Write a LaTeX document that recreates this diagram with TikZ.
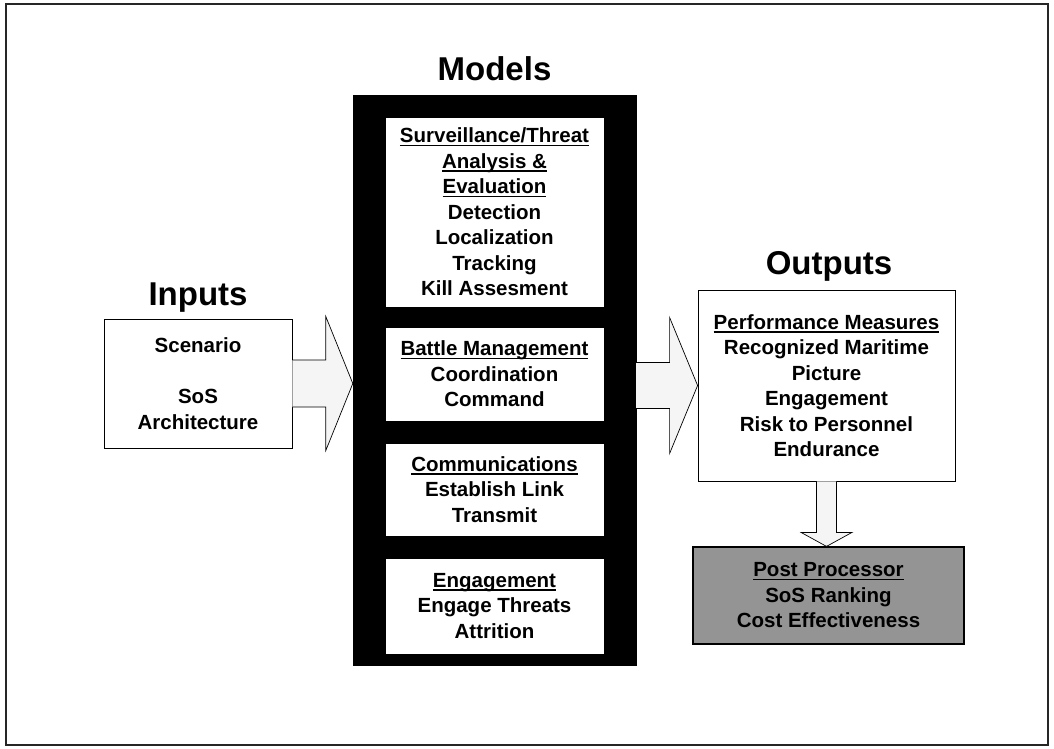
\documentclass[tikz,border=0pt]{standalone}
\usepackage{fontspec}
\setmainfont{Liberation Sans}
\usetikzlibrary{calc}
\newcommand\ulx[1]{\setbox0\hbox{#1}\rlap{\rule[-3.5pt]{\wd0}{1.6pt}}\box0}
\begin{document}
\begin{tikzpicture}[x=1pt,y=-1pt,
  box/.style={draw=black, line width=0.8pt, fill=white, inner sep=0pt, align=center,
    font=\bfseries\fontsize{20.5}{25.5}\selectfont},
  title/.style={anchor=base, inner sep=0pt, font=\bfseries\fontsize{33}{36}\selectfont},
  bigarrow/.style={draw=black, line width=0.7pt, fill=black!4, line join=miter}]
\useasboundingbox (0,0) rectangle (1054,749);
\draw[line width=1.4pt, draw=black!85] (6,4) rectangle (1048,745);

% titles
\node[title] (tinputs) at (198,305) {Inputs};
\node[title] (tmodels) at (494.5,81) {Models};
\node[title] (toutputs) at (829,274) {Outputs};

% inputs
\node[box, minimum width=188pt, minimum height=129pt] (inputs) at (198,383.5)
  {Scenario\\[26pt]SoS\\Architecture};

% models container
\node[draw=black, fill=black, minimum width=283pt, minimum height=570pt, inner sep=0pt] (models) at (494.5,380) {};
\node[box, minimum width=219pt, minimum height=190pt] (b1) at (494.5,212)
  {\ulx{Surveillance/Threat}\\\ulx{Analysis \&}\\\ulx{Evaluation}\\Detection\\Localization\\Tracking\\Kill Assesment};
\node[box, minimum width=219pt, minimum height=94pt] (b2) at (494.5,374)
  {\ulx{Battle Management}\\Coordination\\Command};
\node[box, minimum width=219pt, minimum height=93pt] (b3) at (494.5,489.5)
  {\ulx{Communications}\\Establish Link\\Transmit};
\node[box, minimum width=219pt, minimum height=96pt] (b4) at (494.5,606)
  {\ulx{Engagement}\\Engage Threats\\Attrition};

% outputs
\node[box, minimum width=257pt, minimum height=191pt] (outputs) at (826.5,385.5)
  {\ulx{Performance Measures}\\Recognized Maritime\\Picture\\Engagement\\Risk to Personnel\\Endurance};

% post processor
\node[box, fill=black!42, line width=1.2pt, minimum width=271pt, minimum height=97pt] (post) at (828.5,595.5)
  {\ulx{Post Processor}\\SoS Ranking\\Cost Effectiveness};

% input arrow
\coordinate (ia) at (inputs.east);
\coordinate (ib) at (models.west |- inputs.east);
\draw[bigarrow] ($(ia)+(0,-23.5)$) -- ($(ib)+(-27,-23.5)$) -- ($(ib)+(-27,-67)$) -- (ib)
  -- ($(ib)+(-27,67)$) -- ($(ib)+(-27,23.5)$) -- ($(ia)+(0,23.5)$);

% output arrow
\coordinate (oa) at (models.east |- outputs.west);
\coordinate (ob) at (outputs.west);
\draw[bigarrow] ($(oa)+(0,-23)$) -- ($(ob)+(-28,-23)$) -- ($(ob)+(-28,-68)$) -- (ob)
  -- ($(ob)+(-28,68)$) -- ($(ob)+(-28,23)$) -- ($(oa)+(0,23)$);

% down arrow
\coordinate (da) at (outputs.south);
\coordinate (db) at (post.north -| outputs.south);
\draw[bigarrow] ($(da)+(-10,0)$) -- ($(db)+(-10,-14)$) -- ($(db)+(-25.5,-14)$) -- (db)
  -- ($(db)+(25.5,-14)$) -- ($(db)+(10,-14)$) -- ($(da)+(10,0)$);
\end{tikzpicture}
\end{document}
